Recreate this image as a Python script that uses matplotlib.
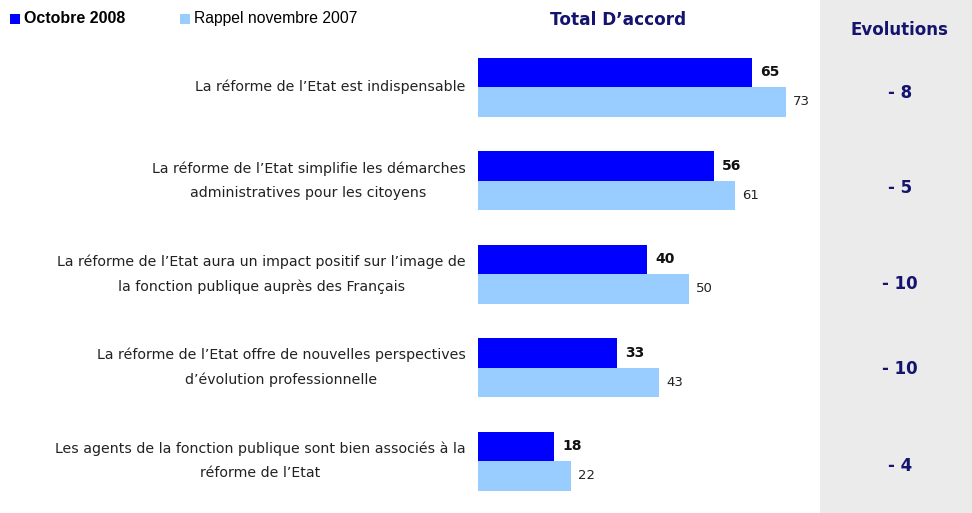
import matplotlib
matplotlib.use("Agg")
import matplotlib.pyplot as plt
from matplotlib.patches import Rectangle

categories = [
    "La réforme de l\u2019Etat est indispensable",
    "La réforme de l\u2019Etat simplifie les démarches\nadministratives pour les citoyens",
    "La réforme de l\u2019Etat aura un impact positif sur l\u2019image de\nla fonction publique auprès des Français",
    "La réforme de l\u2019Etat offre de nouvelles perspectives\nd\u2019évolution professionnelle",
    "Les agents de la fonction publique sont bien associés à la\nréforme de l\u2019Etat",
]
oct2008 = [65, 56, 40, 33, 18]
nov2007 = [73, 61, 50, 43, 22]
evolutions = ["- 8", "- 5", "- 10", "- 10", "- 4"]
series_names = ["Octobre 2008", "Rappel novembre 2007"]

W, H = 972, 513
fig = plt.figure(figsize=(W / 100, H / 100), dpi=100)
fig.patch.set_facecolor("white")

DARK = "#0000FF"
LIGHT = "#99CCFF"
NAVY = "#14146E"
FONT = "DejaVu Sans"

# grey evolutions panel
fig.patches.append(Rectangle((820 / W, 0), (W - 820) / W, 1, transform=fig.transFigure,
                             facecolor="#EBEBEB", edgecolor="none", zorder=0))

ax = fig.add_axes([478 / W, 0, (820 - 478) / W, 1])
ax.set_facecolor("none")
ax.set_xlim(0, (820 - 478) / 4.215)
row_px = 93.5
ax.set_ylim((H - 87) / row_px, -87 / row_px)
ax.axis("off")

bh = 29.5 / row_px
for i, (a, b) in enumerate(zip(oct2008, nov2007)):
    ax.barh(i - bh / 2, a, height=bh, color=DARK, align="center")
    ax.barh(i + bh / 2, b, height=bh, color=LIGHT, align="center")
    ax.annotate(str(a), (a, i - bh / 2), xytext=(6, 0), textcoords="offset points",
                va="center", ha="left", fontsize=10, fontweight="bold",
                color="#111111", family=FONT)
    ax.annotate(str(b), (b, i + bh / 2), xytext=(5, 0), textcoords="offset points",
                va="center", ha="left", fontsize=9.5, color="#222222", family=FONT)
    ax.annotate(categories[i], (0, i), xytext=(-9, 0), textcoords="offset points",
                va="center", ha="right", multialignment="center", fontsize=10.2,
                color="#222222", family=FONT, linespacing=1.95, annotation_clip=False)

# evolutions
evo_y = [93, 188, 284, 369, 466]
for e, y in zip(evolutions, evo_y):
    fig.text(900 / W, 1 - y / H, e, ha="center", va="center", fontsize=12,
             fontweight="bold", color=NAVY, family=FONT)

fig.text(618 / W, 1 - 20 / H, "Total D\u2019accord", ha="center", va="center",
         fontsize=12.2, fontweight="bold", color=NAVY, family=FONT)
fig.text(899 / W, 1 - 30 / H, "Evolutions", ha="center", va="center",
         fontsize=12, fontweight="bold", color=NAVY, family=FONT)

# legend
fig.patches.append(Rectangle((10 / W, 1 - 24 / H), 10 / W, 10 / H, transform=fig.transFigure,
                             facecolor=DARK, edgecolor="none"))
fig.text(24 / W, 1 - 19 / H, series_names[0], ha="left", va="center", fontsize=11.5,
         fontweight="bold", color="black", family="Liberation Sans")
fig.patches.append(Rectangle((180 / W, 1 - 24 / H), 10 / W, 10 / H, transform=fig.transFigure,
                             facecolor=LIGHT, edgecolor="none"))
fig.text(194 / W, 1 - 19 / H, series_names[1], ha="left", va="center", fontsize=11.3,
         color="black", family="Liberation Sans")

fig.savefig("out.png", dpi=100)
